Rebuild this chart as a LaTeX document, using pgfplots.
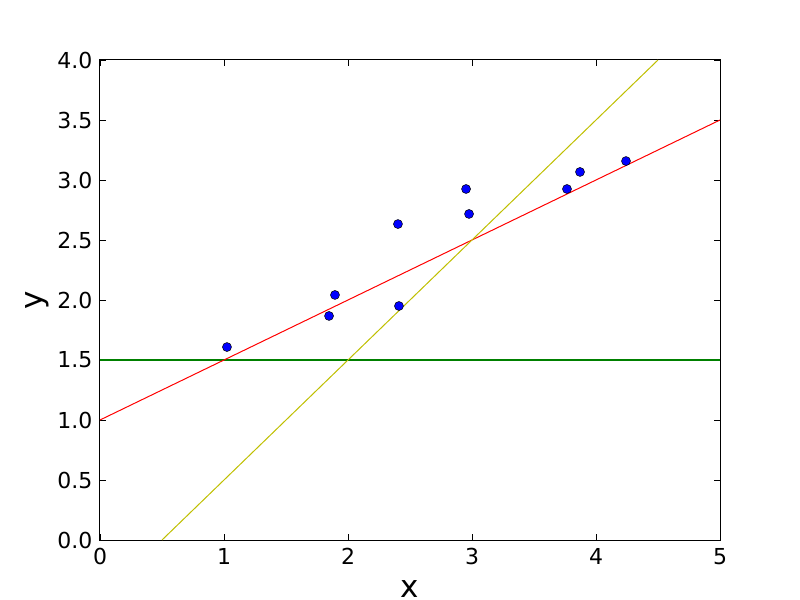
\documentclass[border=0pt]{standalone}
\usepackage{fontspec}
\setmainfont{DejaVu Sans}
\usepackage{pgfplots}
\pgfplotsset{compat=1.18}
\definecolor{mplg}{RGB}{0,128,0}
\definecolor{mply}{RGB}{191,191,0}
\begin{document}
\begin{tikzpicture}[x=1bp,y=1bp]
\useasboundingbox (-100bp,-60bp) rectangle (700bp,540bp);
\begin{axis}[
  at={(0,0)}, anchor=south west,
  scale only axis, width=620bp, height=480bp,
  xmin=0, xmax=5, ymin=0, ymax=4,
  xtick={0,1,2,3,4,5},
  ytick={0,0.5,1,1.5,2,2.5,3,3.5,4},
  yticklabels={0.0,0.5,1.0,1.5,2.0,2.5,3.0,3.5,4.0},
  xticklabels={0,1,2,3,4,5},
  tick align=inside,
  major tick length=6bp,
  minor tick num=0,
  axis line style={line width=1bp},
  tick style={line width=0.8bp, black},
  every tick label/.append style={font=\fontsize{22bp}{26bp}\selectfont},
  every x tick label/.append style={yshift=-5bp},
  every y tick label/.append style={xshift=-4bp},
  xlabel={x}, ylabel={y},
  label style={font=\fontsize{31bp}{36bp}\selectfont},
  xlabel style={inner sep=0pt, yshift=-12bp},
  ylabel style={yshift=2bp},
  clip=true,
]
\addplot[draw=mplg, line width=1.1bp] coordinates {(0,1.5) (5,1.5)};
\addplot[draw=red, line width=1bp] coordinates {(0,1.0) (5,3.5)};
\addplot[draw=mply, line width=1bp] coordinates {(0.5,0) (4.5,4)};
\addplot[only marks, mark=*, mark size=4.5bp, mark options={fill=blue, draw=black, line width=0.5bp}] coordinates {
(1.024,1.608) (1.847,1.867) (1.895,2.042) (2.403,2.633) (2.411,1.950)
(2.952,2.925) (2.976,2.717) (3.766,2.925) (3.871,3.067) (4.242,3.158)
};
\end{axis}
\end{tikzpicture}
\end{document}
